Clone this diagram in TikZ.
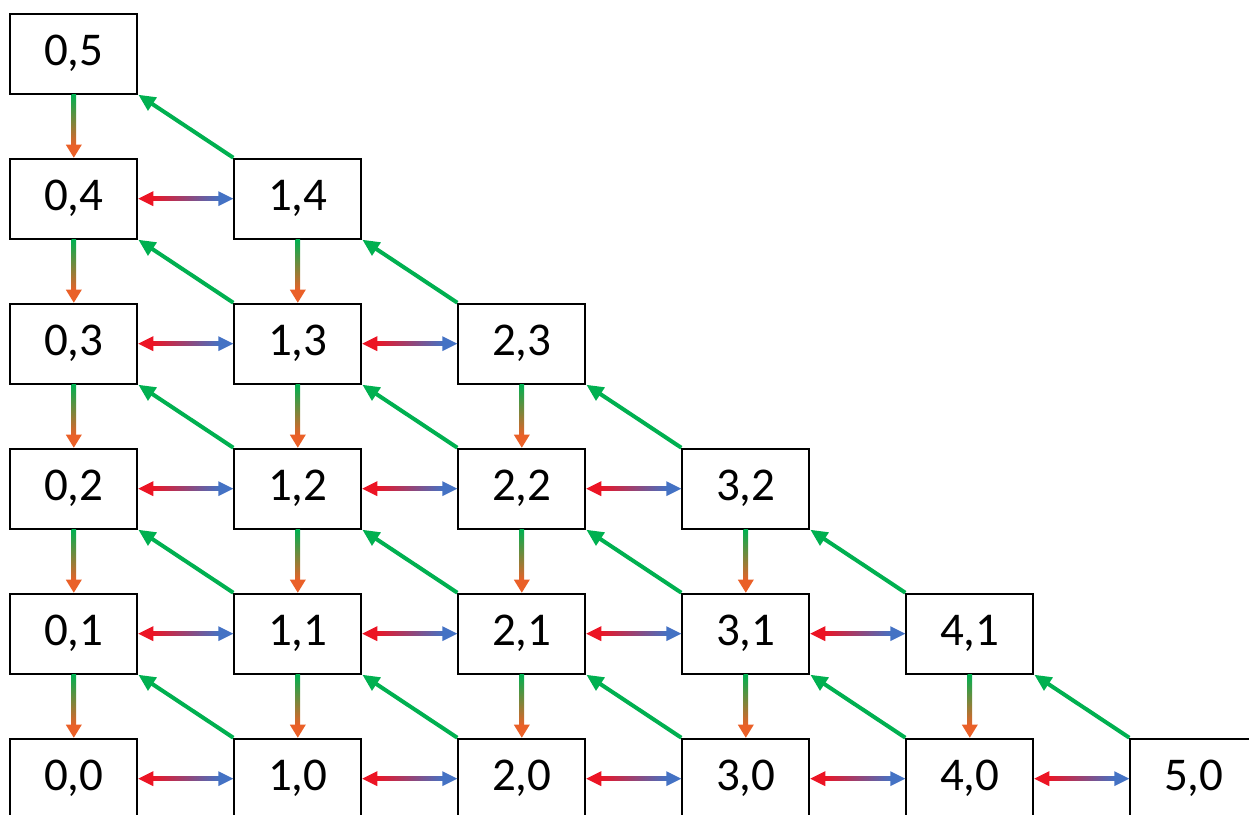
\documentclass[tikz,border=0pt]{standalone}
\usepackage{fontspec}
\setmainfont{Carlito}
\usetikzlibrary{calc,arrows.meta}

\definecolor{boxline}{RGB}{0,0,0}
\definecolor{hred}{RGB}{236,20,36}
\definecolor{hblue}{RGB}{68,114,196}
\definecolor{vgreen}{RGB}{0,176,80}
\definecolor{vorange}{RGB}{234,96,40}
\definecolor{dgreen}{RGB}{0,176,80}

% horizontal two-way link: red on the left, blue on the right
\newcommand\hlink[2]{%
  \shade[left color=hred, right color=hblue]
    ($(#1.east)+(14,-2.2)$) rectangle ($(#2.west)+(-14,2.2)$);
  \fill[hred]  (#1.east) -- ++(15,-7.5) -- ++(0,15) -- cycle;
  \fill[hblue] (#2.west) -- ++(-15,-7.5) -- ++(0,15) -- cycle;}

% vertical link: green fading into orange
\newcommand\vlink[2]{%
  \shade[top color=vgreen, bottom color=vorange]
    ($(#1.south)+(-2.2,0)$) rectangle ($(#2.north)+(2.2,-12)$);
  \fill[vorange] (#2.north) -- ++(-8,-13) -- ++(16,0) -- cycle;}

\begin{document}
\begin{tikzpicture}[x=1pt,y=-1pt,
  cell/.style={draw=boxline, line width=2pt, fill=white,
    minimum width=127pt, minimum height=80pt, inner sep=0pt,
    font=\fontsize{47}{50}\selectfont},
  diag/.style={draw=dgreen, line width=4pt,
    -{Triangle[length=17pt,width=15pt]}}]
  \useasboundingbox (0,0) rectangle (1249,814);

  % grid of cells (i,j) with i+j <= 5
  \foreach \i in {0,...,5}{
    \pgfmathtruncatemacro\jmax{5-\i}
    \foreach \j in {0,...,\jmax}{
      \node[cell] (n-\i-\j) at ({73.8+224*\i},{53.7+145*(5-\j)}) {\i,\j};
    }
  }

  % horizontal links along each row
  \foreach \j in {0,...,4}{
    \pgfmathtruncatemacro\imax{4-\j}
    \foreach \i in {0,...,\imax}{
      \pgfmathtruncatemacro\ni{\i+1}
      \hlink{n-\i-\j}{n-\ni-\j}
    }
  }

  % vertical links down each column
  \foreach \i in {0,...,4}{
    \pgfmathtruncatemacro\jmax{5-\i}
    \foreach \j in {1,...,\jmax}{
      \pgfmathtruncatemacro\nj{\j-1}
      \vlink{n-\i-\j}{n-\i-\nj}
    }
  }

  % diagonal links from (i+1,j-1) up to (i,j)
  \foreach \i in {0,...,4}{
    \pgfmathtruncatemacro\jmax{5-\i}
    \foreach \j in {1,...,\jmax}{
      \pgfmathtruncatemacro\ni{\i+1}
      \pgfmathtruncatemacro\nj{\j-1}
      \draw[diag] (n-\ni-\nj.north west) -- (n-\i-\j.south east);
    }
  }
\end{tikzpicture}
\end{document}
